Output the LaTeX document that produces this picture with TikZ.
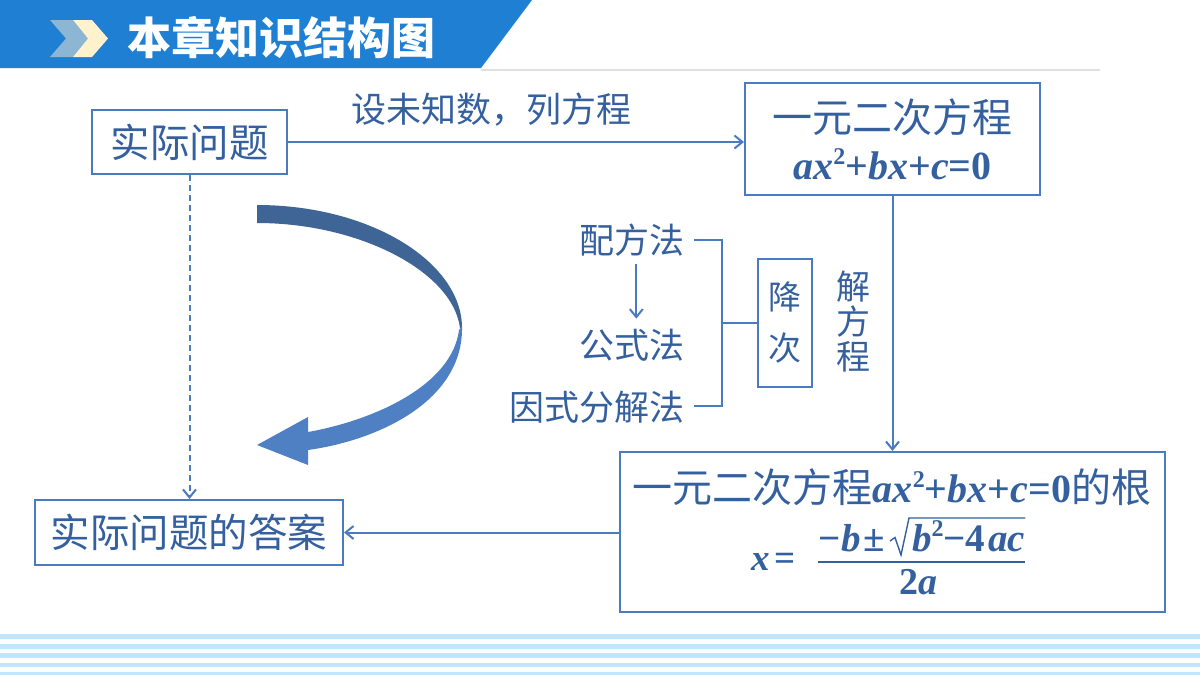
\documentclass[tikz,border=0pt]{standalone}
\usepackage{fontspec}
\setmainfont{Noto Sans CJK SC}
\newfontfamily\cjk{Noto Sans CJK SC}
\newfontfamily\tms{Liberation Serif}
\usetikzlibrary{arrows.meta,calc}
\definecolor{hdr}{HTML}{1F7FD3}
\definecolor{ln}{HTML}{4A7BC0}
\definecolor{tx}{HTML}{35609F}
\definecolor{stripe}{HTML}{BEE6FD}
\definecolor{chevA}{HTML}{8DB6D4}
\definecolor{chevB}{HTML}{FFF2CC}
\definecolor{arrD}{HTML}{3F6597}
\definecolor{arrL}{HTML}{5080C4}
\newcommand{\fs}[1]{\fontsize{#1}{#1}\selectfont}
\newcommand{\mi}[1]{{\tms\bfseries\itshape #1}}
\newcommand{\mr}[1]{{\tms\bfseries #1}}
\newcommand{\sq}{\raisebox{.36em}{\fontsize{24}{24}\selectfont\mr{2}}}
\tikzset{
  box/.style={draw=ln, line width=2pt, inner sep=0pt, text=tx},
  lbl/.style={inner sep=0pt, text=tx},
  conn/.style={draw=ln, line width=2pt, -{Straight Barb[length=8pt,width=13pt,line width=2pt]}},
  plain/.style={draw=ln, line width=2pt},
}
\begin{document}
\begin{tikzpicture}[x=1pt,y=-1pt]
\useasboundingbox (0,0) rectangle (1200,675);
\fill[white] (0,0) rectangle (1200,675);
% header
\fill[hdr] (0,0) -- (532,0) -- (481,68) -- (0,68) -- cycle;
\draw[black!12, line width=1.5pt] (481,70) -- (1100,70);
\fill[chevA] (50,20) -- (73,20) -- (88,38.5) -- (73,57) -- (50,57) -- (66,38.5) -- cycle;
\fill[chevB] (73,20) -- (92,20) -- (108,38.5) -- (92,57) -- (73,57) -- (88,38.5) -- cycle;
\node[text=white, inner sep=0pt] (title) at (281,38) {\fs{44}\cjk\bfseries 本章知识结构图};
% stripes
\foreach \a/\b in {634/639, 644/648.5, 653/658, 662.5/667, 672/675}
  \fill[stripe] (0,\a) rectangle (1200,\b);
% boxes
\node[box, minimum width=195pt, minimum height=64pt, font=\fs{39.5}] (q) at (189.5,142) {实际问题};
\node[box, minimum width=295pt, minimum height=112pt, align=center, font=\fontsize{40}{47}\selectfont] (eq) at (892.5,139)
  {一元二次方程\\\mi{ax}\sq\mr{+}\mi{bx}\mr{+}\mi{c}\mr{=0}};
\node[box, minimum width=54pt, minimum height=128pt, align=center, font=\fontsize{33}{51}\selectfont] (jc) at (785,322.5)
  {降\\次};
\node[box, minimum width=545pt, minimum height=160pt] (root) at (892.5,532) {};
\node[box, minimum width=308pt, minimum height=65pt, font=\fs{39.5}] (ans) at (189,532.5) {实际问题的答案};
% root contents
\node[lbl, font=\fs{40}] (r1) at (892,487)
  {一元二次方程\mi{ax}\sq\mr{+}\mi{bx}\mr{+}\mi{c}\mr{=0}的根};
\node[lbl, anchor=base, font=\fs{37}] (fx) at (773.5,570) {\mi{x}\hspace{5pt}\mr{=}};
\node[lbl, anchor=base east, font=\fs{39}] (nA) at (885,551) {\mr{−}\hspace{1pt}\mi{b}\hspace{2pt}\mr{±}};
\node[lbl, anchor=base west, font=\fs{39}] (nB) at (912,551) {\mi{b}\sq\mr{−4}\hspace{3pt}\mi{ac}};
\node[lbl, anchor=base, font=\fs{38}] (den) at (918,594) {\mr{2}\mi{a}};
\draw[tx, line width=1.4pt, line join=miter] (890,541) -- (895,537.5) -- (901,555) -- (909,518) -- (nB.east |- 0,518);
\draw[tx, line width=2pt] (nA.west |- 0,562) -- (nB.east |- 0,562);
% labels
\node[lbl, font=\fs{35}] (lie) at (491,110) {设未知数，列方程};
\node[lbl, align=center, font=\fontsize{34}{35}\selectfont] (jie) at (853,322) {解\\方\\程};
\node[lbl, anchor=east, font=\fs{35}] (m1) at (685,240) {配方法};
\node[lbl, anchor=east, font=\fs{35}] (m2) at (685,345) {公式法};
\node[lbl, anchor=east, font=\fs{35}] (m3) at (685,407) {因式分解法};
% bracket
\coordinate (b1) at (722,240);
\coordinate (b3) at (722,406);
\draw[plain] ($(m1.east)+(9,0)$) -- (b1) -- (b3) -- ($(m3.east)+(9,-1)$);
\draw[plain] (b1 |- jc.west) -- (jc.west);
\draw[conn] ($(m1.south)+(4,8)$) -- ($(m2.north)+(4,-10)$);
% connectors
\draw[conn] (q.east) -- (q.east -| eq.west);
\draw[conn] (eq.south) -- (root.north);
\draw[conn] (root.west |- ans.east) -- (ans.east);
\draw[conn, dash pattern=on 6pt off 4pt] (q.south) -- (q.south |- ans.north);
% curved arrow
\fill[arrD] (257,205) .. controls (370,205) and (462,262) .. (462,328)
  -- (460,328) .. controls (453,272) and (360,223) .. (257,223) -- cycle;
\fill[arrL] (462,326) .. controls (464,400) and (380,440) .. (308,450)
  -- (308,465) -- (257,445) -- (308,417) -- (308,432)
  .. controls (375,420) and (452,385) .. (459,330) -- cycle;
\end{tikzpicture}
\end{document}
